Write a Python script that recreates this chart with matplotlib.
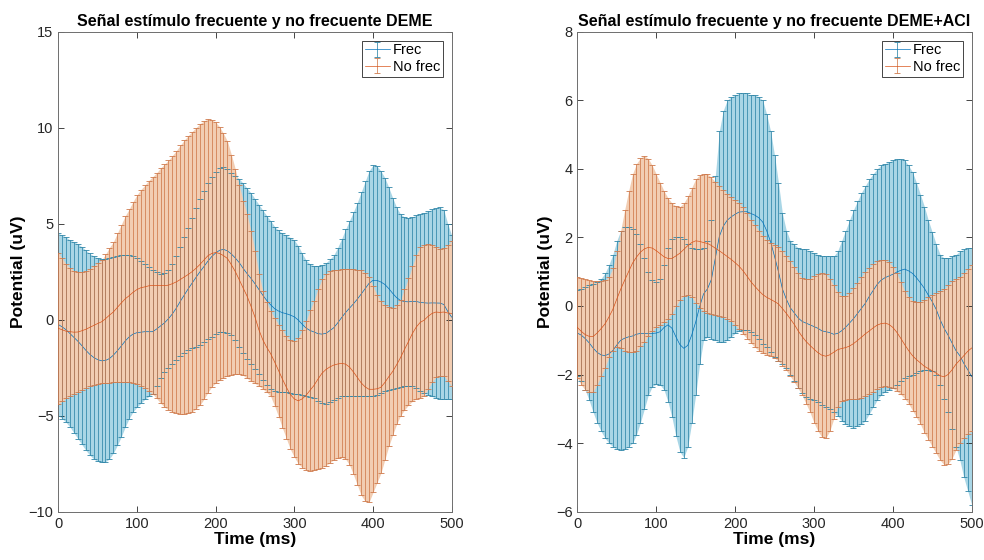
import matplotlib.pyplot as plt
import numpy as np

plt.rcParams["font.family"] = ["Liberation Sans", "DejaVu Sans"]

# time axis, one sample every 5 ms
t_ms = np.arange(0, 505, 5)

# DEME: upper / lower limits of the error bars (uV)
deme_frec_hi = [
    4.5, 4.4, 4.3, 4.15, 4.05, 3.95, 3.8, 3.62, 3.45, 3.32,
    3.22, 3.15, 3.15, 3.2, 3.25, 3.3, 3.35, 3.37, 3.35, 3.3,
    3.2, 3.05, 2.9, 2.75, 2.6, 2.48, 2.4, 2.42, 2.6, 2.9,
    3.3, 3.8, 4.3, 4.8, 5.3, 5.8, 6.3, 6.7, 7.1, 7.45,
    7.7, 7.88, 7.95, 7.85, 7.65, 7.48, 7.35, 7.1, 6.85, 6.6,
    6.3, 6.0, 5.7, 5.42, 5.15, 4.85, 4.65, 4.5, 4.4, 4.28,
    4.15, 3.85, 3.45, 3.1, 2.9, 2.82, 2.8, 2.85, 2.95, 3.15,
    3.35, 3.75, 4.2, 4.7, 5.15, 5.6, 6.1, 6.65, 7.2, 7.75,
    8.05, 8.0, 7.75, 7.4, 6.9, 6.35, 5.85, 5.5, 5.35, 5.3,
    5.35, 5.45, 5.5, 5.58, 5.65, 5.75, 5.82, 5.85, 5.72, 5.0,
    4.4,
]
deme_frec_lo = [
    -5.0, -5.15, -5.35, -5.6, -5.9, -6.2, -6.5, -6.8, -7.05, -7.25,
    -7.38, -7.43, -7.4, -7.25, -6.95, -6.55, -6.1, -5.6, -5.15, -4.8,
    -4.55, -4.35, -4.15, -4.0, -3.85, -3.45, -3.05, -2.75, -2.5, -2.3,
    -2.1, -1.9, -1.75, -1.6, -1.5, -1.4, -1.32, -1.18, -1.02, -0.88,
    -0.75, -0.65, -0.62, -0.68, -0.8, -1.05, -1.4, -1.75, -2.05, -2.3,
    -2.55, -2.85, -3.15, -3.42, -3.6, -3.7, -3.75, -3.77, -3.78, -3.8,
    -3.85, -3.88, -3.92, -3.97, -4.02, -4.1, -4.25, -4.35, -4.38, -4.3,
    -4.2, -4.1, -4.0, -3.97, -3.96, -3.96, -3.97, -3.98, -3.97, -3.96,
    -3.95, -3.9, -3.82, -3.72, -3.65, -3.6, -3.55, -3.5, -3.46, -3.44,
    -3.44, -3.55, -3.7, -3.82, -3.92, -4.0, -4.08, -4.12, -4.13, -4.13,
    -4.13,
]
deme_nofrec_hi = [
    3.5, 3.2, 2.9, 2.7, 2.55, 2.5, 2.5, 2.55, 2.65, 2.8,
    2.95, 3.1, 3.4, 3.75, 4.05, 4.5, 4.95, 5.4, 5.75, 6.15,
    6.5, 6.78, 7.0, 7.25, 7.45, 7.65, 7.9, 8.1, 8.3, 8.55,
    8.8, 9.08, 9.35, 9.58, 9.8, 10.0, 10.2, 10.35, 10.45, 10.4,
    10.3, 10.05, 9.7, 9.3, 8.6, 7.85, 7.0, 6.2, 5.5, 4.6,
    3.6, 2.4, 1.5, 0.9, 0.45, 0.1, -0.25, -0.55, -0.85, -1.05,
    -1.1, -0.95, -0.55, -0.05, 0.5, 1.0, 1.6, 2.1, 2.4, 2.52,
    2.57, 2.6, 2.62, 2.63, 2.63, 2.62, 2.6, 2.57, 2.45, 2.25,
    1.75, 1.3, 0.95, 0.75, 0.65, 0.6, 0.75, 1.05, 1.6, 2.15,
    2.8, 3.35, 3.8, 3.9, 3.95, 3.9, 3.8, 3.68, 3.72, 3.9,
    4.1,
]
deme_nofrec_lo = [
    -4.4, -4.25, -4.1, -3.95, -3.85, -3.78, -3.65, -3.55, -3.45, -3.4,
    -3.35, -3.32, -3.3, -3.28, -3.25, -3.23, -3.22, -3.23, -3.26, -3.3,
    -3.36, -3.45, -3.58, -3.72, -3.87, -4.1, -4.35, -4.55, -4.7, -4.8,
    -4.86, -4.9, -4.9, -4.88, -4.8, -4.65, -4.45, -4.15, -3.8, -3.5,
    -3.3, -3.15, -3.02, -2.92, -2.87, -2.83, -2.83, -2.9, -3.05, -3.2,
    -3.32, -3.45, -3.6, -3.78, -4.0, -4.5, -5.05, -5.65, -6.2, -6.75,
    -7.15, -7.5, -7.7, -7.82, -7.86, -7.85, -7.8, -7.7, -7.6, -7.45,
    -7.3, -7.22, -7.17, -7.25, -7.55, -8.05, -8.6, -9.15, -9.45, -9.5,
    -9.0, -8.5, -8.0, -7.3, -6.6, -6.0, -5.45, -5.0, -4.7, -4.45,
    -4.25, -4.12, -4.08, -3.95, -3.6, -3.25, -3.0, -2.92, -2.92, -3.2,
    -3.45,
]

# DEME+ACI: upper / lower limits of the error bars (uV)
aci_frec_hi = [
    0.47, 0.5, 0.55, 0.6, 0.65, 0.7, 0.8, 0.95, 1.2, 1.5,
    1.9, 2.2, 2.3, 2.3, 2.25, 2.1, 1.8, 1.4, 1.0, 0.75,
    0.7, 0.8, 1.2, 1.7, 1.95, 2.0, 2.0, 1.95, 1.8, 1.7,
    1.65, 1.65, 1.7, 1.9, 2.5, 3.8, 5.1, 5.7, 6.0, 6.1,
    6.15, 6.2, 6.2, 6.2, 6.15, 6.15, 6.1, 6.0, 5.6, 5.1,
    4.4, 3.6, 2.7, 2.2, 1.9, 1.8, 1.7, 1.65, 1.65, 1.6,
    1.55, 1.5, 1.45, 1.45, 1.45, 1.45, 1.6, 1.9, 2.2, 2.5,
    2.8, 3.05, 3.3, 3.5, 3.7, 3.85, 4.0, 4.1, 4.15, 4.2,
    4.25, 4.28, 4.28, 4.25, 4.1, 3.9, 3.6, 3.25, 2.9, 2.5,
    2.15, 1.8, 1.5, 1.4, 1.4, 1.45, 1.5, 1.6, 1.65, 1.68,
    1.68,
]
aci_frec_lo = [
    -2.05, -2.2, -2.45, -2.75, -3.1, -3.4, -3.65, -3.85, -4.0, -4.1,
    -4.18, -4.2, -4.18, -4.1, -4.0, -3.75, -3.4, -3.0, -2.6, -2.35,
    -2.28, -2.3, -2.45, -2.8, -3.25, -3.8, -4.25, -4.42, -4.1, -3.4,
    -2.6, -1.7, -1.0, -0.9, -0.95, -1.0, -1.05, -1.05, -1.0, -0.9,
    -0.8, -0.72, -0.7, -0.7, -0.75, -0.85, -0.95, -1.1, -1.2, -1.35,
    -1.5, -1.6, -1.7, -1.8, -2.0, -2.2, -2.4, -2.55, -2.65, -2.7,
    -2.75, -2.8, -2.9, -2.95, -3.0, -3.1, -3.2, -3.35, -3.45, -3.5,
    -3.55, -3.5, -3.45, -3.35, -3.15, -2.95, -2.75, -2.6, -2.5, -2.45,
    -2.4, -2.3, -2.2, -2.1, -2.05, -2.0, -1.95, -1.9, -1.87, -1.87,
    -1.9, -2.0, -2.3, -2.7, -3.1, -3.6, -4.1, -4.5, -5.0, -5.4,
    -5.8,
]
aci_nofrec_hi = [
    0.85, 0.82, 0.78, 0.75, 0.72, 0.72, 0.72, 0.75, 0.85, 1.1,
    1.6, 2.2, 2.8, 3.35, 3.85, 4.15, 4.32, 4.38, 4.3, 4.1,
    3.85, 3.6, 3.35, 3.15, 3.0, 2.92, 2.9, 3.0, 3.2, 3.45,
    3.7, 3.82, 3.85, 3.85, 3.75, 3.62, 3.5, 3.38, 3.27, 3.17,
    3.08, 3.0, 2.88, 2.7, 2.5, 2.35, 2.2, 2.05, 1.93, 1.85,
    1.78, 1.72, 1.6, 1.45, 1.3, 1.15, 0.95, 0.82, 0.78, 0.8,
    0.88, 0.93, 0.95, 0.92, 0.8, 0.6, 0.4, 0.3, 0.3, 0.38,
    0.52, 0.68, 0.85, 1.0, 1.12, 1.22, 1.3, 1.33, 1.33, 1.28,
    1.15, 0.95, 0.7, 0.45, 0.25, 0.15, 0.12, 0.13, 0.18, 0.25,
    0.32, 0.38, 0.43, 0.5, 0.6, 0.72, 0.8, 0.85, 0.95, 1.08,
    1.2,
]
aci_nofrec_lo = [
    -2.1, -2.3, -2.45, -2.52, -2.5, -2.3, -2.05, -1.8, -1.5, -1.3,
    -1.2, -1.22, -1.3, -1.35, -1.35, -1.3, -1.18, -1.05, -0.88, -0.72,
    -0.62, -0.55, -0.48, -0.38, -0.22, 0.0, 0.18, 0.3, 0.32, 0.25,
    0.1, -0.05, -0.15, -0.2, -0.22, -0.25, -0.28, -0.32, -0.38, -0.45,
    -0.55, -0.68, -0.82, -0.95, -1.08, -1.2, -1.3, -1.38, -1.42, -1.46,
    -1.52, -1.6, -1.75, -1.88, -2.05, -2.22, -2.4, -2.6, -2.85, -3.1,
    -3.4, -3.65, -3.82, -3.85, -3.65, -3.3, -2.95, -2.78, -2.73, -2.72,
    -2.72, -2.7, -2.68, -2.63, -2.58, -2.5, -2.42, -2.36, -2.33, -2.35,
    -2.4, -2.48, -2.58, -2.7, -2.85, -3.05, -3.25, -3.45, -3.7, -3.9,
    -4.1, -4.3, -4.5, -4.63, -4.6, -4.45, -4.2, -4.0, -3.85, -3.72,
    -3.65,
]

titles = [
    "Señal estímulo frecuente y no frecuente DEME",
    "Señal estímulo frecuente y no frecuente DEME+ACI",
]
ylims = [(-10, 15), (-6, 8)]
yticks = [np.arange(-10, 16, 5), np.arange(-6, 9, 2)]
series_labels = ["Frec", "No frec"]

# matlab default colours, muted bar tones and light tints between the bars
colors = ["#0072BD", "#D95319"]
bar_colors = ["#2f86a8", "#cf7a4c"]
tints = ["#a9d6e6", "#f2cdb2"]

panels = [
    [(deme_frec_hi, deme_frec_lo), (deme_nofrec_hi, deme_nofrec_lo)],
    [(aci_frec_hi, aci_frec_lo), (aci_nofrec_hi, aci_nofrec_lo)],
]

fig = plt.figure(figsize=(9.84, 5.6), dpi=100)
ax_left = fig.add_axes([0.0592, 0.0863, 0.3998, 0.857])
ax_right = fig.add_axes([0.5867, 0.0863, 0.4008, 0.857])

for ax, series, title, ylim, yt in zip(
    [ax_left, ax_right], panels, titles, ylims, yticks
):
    # light fill first so every bar sits on top of it
    for (hi, lo), tint in zip(series, tints):
        ax.fill_between(t_ms, lo, hi, color=tint, lw=0, zorder=1)
    handles = []
    for k, (hi, lo) in enumerate(series):
        hi = np.array(hi)
        lo = np.array(lo)
        mean = (hi + lo) / 2
        err = (hi - lo) / 2
        h = ax.errorbar(
            t_ms,
            mean,
            yerr=err,
            color=colors[k],
            ecolor=bar_colors[k],
            lw=0.5,
            elinewidth=0.55,
            capsize=2.2,
            capthick=0.6,
            zorder=2 + k,
            label=series_labels[k],
        )
        handles.append(h)

    ax.set_xlim(0, 500)
    ax.set_ylim(*ylim)
    ax.set_xticks(np.arange(0, 501, 100))
    ax.set_yticks(yt)
    ax.tick_params(
        direction="in", top=True, right=True, labelsize=10.5,
        colors="#262626", length=4, width=0.6,
    )
    for sp in ax.spines.values():
        sp.set_color("#6e6e6e")
        sp.set_linewidth(0.7)
    ax.set_title(title, fontsize=11.5, fontweight="bold", pad=4)
    ax.set_xlabel("Time (ms)", fontsize=12.5, fontweight="bold", labelpad=1)
    ax.set_ylabel("Potential (uV)", fontsize=12.5, fontweight="bold", labelpad=2)
    leg = ax.legend(
        handles=handles,
        loc="upper right",
        fontsize=10.5,
        fancybox=False,
        framealpha=1,
        borderpad=0.2,
        handlelength=1.7,
        handletextpad=0.2,
        labelspacing=0.15,
        borderaxespad=0.6,
    )
    leg.get_frame().set_edgecolor("#262626")
    leg.get_frame().set_linewidth(0.6)

fig.savefig("out.png", dpi=100)
